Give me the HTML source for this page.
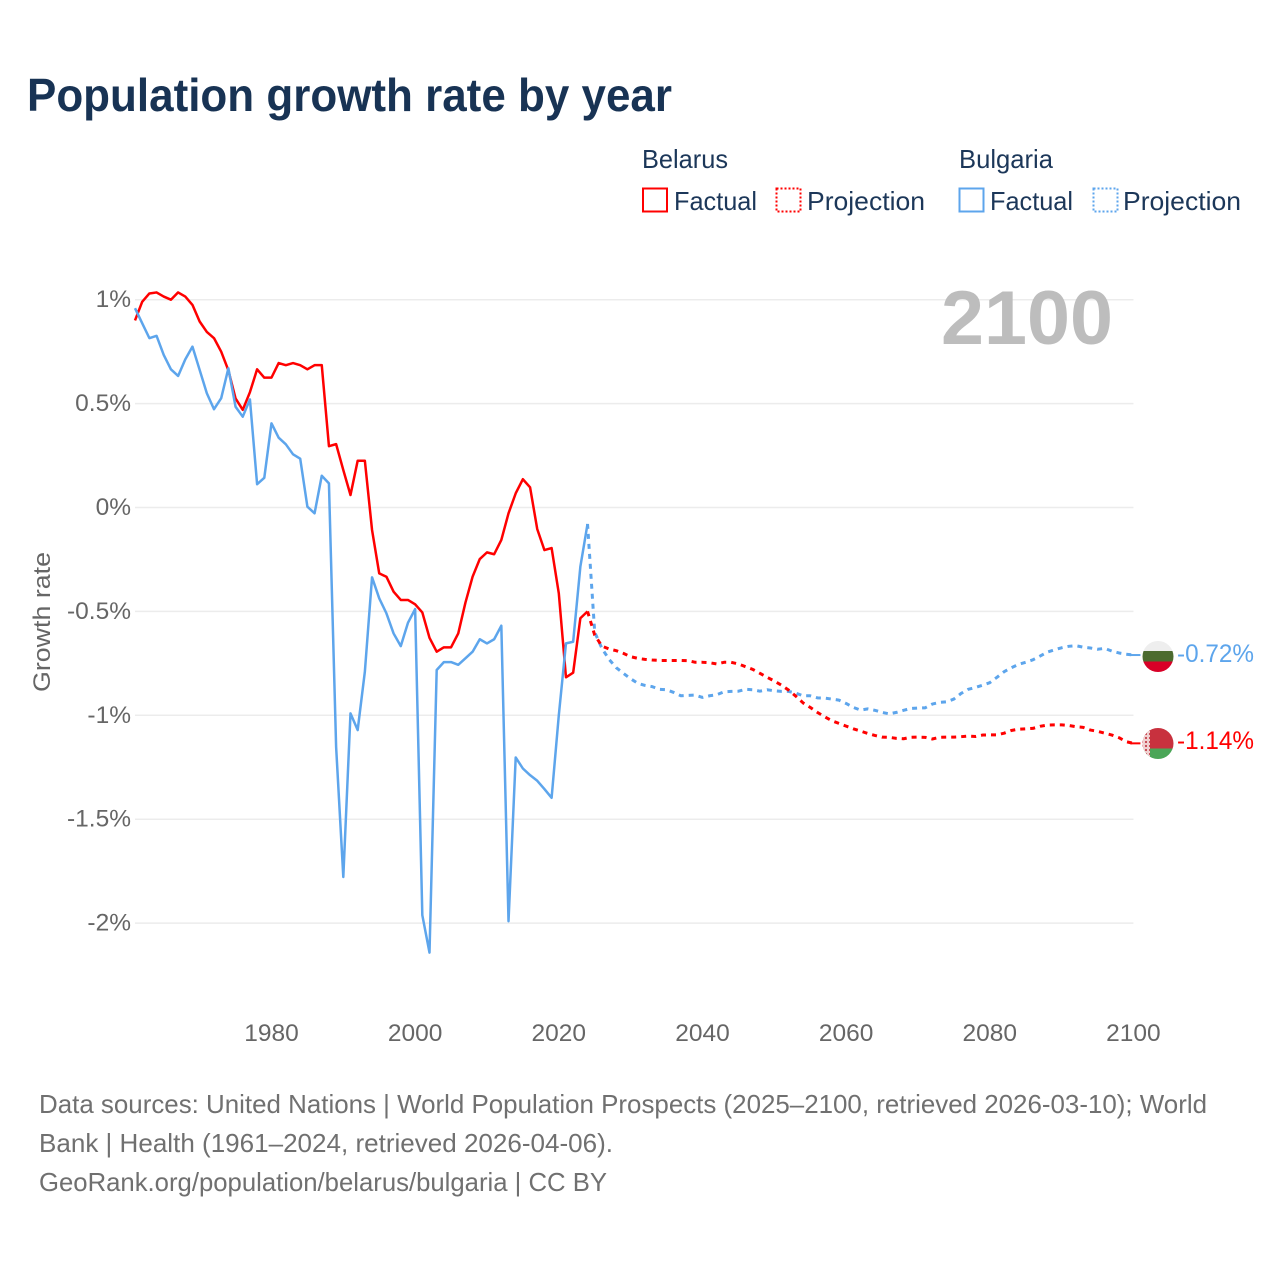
<!DOCTYPE html>
<html lang="en">
<head>
<meta charset="utf-8">
<title>Population growth rate by year</title>
<style>
html,body{margin:0;padding:0;background:#fff;}
svg{display:block;font-family:"Liberation Sans",sans-serif;}
</style>
</head>
<body>
<svg id="chart" xmlns="http://www.w3.org/2000/svg" width="1280" height="1280" viewBox="0 0 1280 1280">
  <rect width="1280" height="1280" fill="#ffffff"/>
  <text x="27" y="111" font-size="46" font-weight="700" fill="#183354" textLength="645" lengthAdjust="spacingAndGlyphs">Population growth rate by year</text>

  <g font-size="26" fill="#1c3759">
    <text x="642" y="168" textLength="86" lengthAdjust="spacingAndGlyphs">Belarus</text>
    <text x="959" y="168" textLength="94" lengthAdjust="spacingAndGlyphs">Bulgaria</text>
    <rect x="643" y="188.5" width="24" height="23" fill="none" stroke="#ff0000" stroke-width="2"/>
    <text x="674" y="210" textLength="83" lengthAdjust="spacingAndGlyphs">Factual</text>
    <rect x="776.5" y="188.5" width="24" height="23" fill="none" stroke="#ff0000" stroke-width="2" stroke-dasharray="2 2"/>
    <text x="807" y="210" textLength="118" lengthAdjust="spacingAndGlyphs">Projection</text>
    <rect x="959.5" y="188.5" width="24" height="23" fill="none" stroke="#5da5ec" stroke-width="2"/>
    <text x="990" y="210" textLength="83" lengthAdjust="spacingAndGlyphs">Factual</text>
    <rect x="1093.5" y="188.5" width="24" height="23" fill="none" stroke="#5da5ec" stroke-width="2" stroke-dasharray="2 2"/>
    <text x="1123" y="210" textLength="118" lengthAdjust="spacingAndGlyphs">Projection</text>
  </g>

  <g id="grid"></g>
  <g id="yticks" font-size="24.5" fill="#666666" text-anchor="end"></g>
  <g id="xticks" font-size="24.5" fill="#666666" text-anchor="middle"></g>
  <text transform="translate(50 622) rotate(-90)" font-size="24.5" fill="#666666" text-anchor="middle" textLength="140" lengthAdjust="spacingAndGlyphs">Growth rate</text>
  <text x="941" y="344" font-size="76" font-weight="700" fill="#bdbdbd" textLength="172" lengthAdjust="spacingAndGlyphs">2100</text>

  <g id="series"></g>

  <defs>
    <clipPath id="clip-bg"><circle cx="1158" cy="656.5" r="15.5"/></clipPath>
    <clipPath id="clip-by"><circle cx="1158" cy="743.5" r="15.5"/></clipPath>
    <pattern id="by-ornament" width="4" height="4" patternUnits="userSpaceOnUse">
      <rect width="4" height="4" fill="#f0d0d0"/>
      <rect x="1" y="1" width="2" height="2" fill="#c8505a"/>
    </pattern>
  </defs>
  <g clip-path="url(#clip-bg)">
    <rect x="1142" y="641" width="32" height="10.5" fill="#eeeeee"/>
    <rect x="1142" y="651" width="32" height="10.5" fill="#4c6b2f"/>
    <rect x="1142" y="661.5" width="32" height="11" fill="#d80027"/>
  </g>
  <g clip-path="url(#clip-by)">
    <rect x="1142" y="728" width="32" height="20.5" fill="#c8313e"/>
    <rect x="1142" y="748.5" width="32" height="10.5" fill="#4aa657"/>
    <rect x="1142" y="728" width="8" height="31" fill="url(#by-ornament)"/>
  </g>
  <text id="label-bg" x="1177" y="662" font-size="25" fill="#5da5ec" textLength="77" lengthAdjust="spacingAndGlyphs"></text>
  <text id="label-by" x="1177" y="749" font-size="25" fill="#ff0000" textLength="77" lengthAdjust="spacingAndGlyphs"></text>

  <g font-size="26" fill="#707070">
    <text x="39" y="1113" textLength="1168" lengthAdjust="spacingAndGlyphs">Data sources: United Nations | World Population Prospects (2025–2100, retrieved 2026-03-10); World</text>
    <text x="39" y="1152" textLength="574" lengthAdjust="spacingAndGlyphs">Bank | Health (1961–2024, retrieved 2026-04-06).</text>
    <text x="39" y="1191" textLength="568" lengthAdjust="spacingAndGlyphs">GeoRank.org/population/belarus/bulgaria | CC BY</text>
  </g>
</svg>
<script>
const factualStartYear = 1961;
const projectionStartYear = 2024;
const xTickYears = [1980, 2000, 2020, 2040, 2060, 2080, 2100];
const yTickValues = [1, 0.5, 0, -0.5, -1, -1.5, -2];
const yTickLabels = ['1%', '0.5%', '0%', '-0.5%', '-1%', '-1.5%', '-2%'];
const belarusEndLabel = '-1.14%';
const bulgariaEndLabel = '-0.72%';

const belarusFactual = [0.90,0.99,1.03,1.035,1.015,1.00,1.035,1.015,0.975,0.895,0.845,0.815,0.75,0.66,0.525,0.47,0.555,0.665,0.625,0.625,0.695,0.685,0.695,0.685,0.665,0.685,0.685,0.295,0.305,0.18,0.06,0.225,0.225,-0.108,-0.317,-0.333,-0.405,-0.445,-0.445,-0.466,-0.505,-0.627,-0.694,-0.673,-0.673,-0.606,-0.458,-0.333,-0.248,-0.216,-0.225,-0.156,-0.028,0.068,0.136,0.097,-0.104,-0.205,-0.195,-0.413,-0.817,-0.795,-0.533,-0.50];

const bulgariaFactual = [0.959,0.887,0.815,0.826,0.734,0.665,0.633,0.713,0.774,0.662,0.55,0.473,0.526,0.67,0.485,0.437,0.52,0.112,0.143,0.405,0.336,0.304,0.256,0.235,0.004,-0.028,0.153,0.116,-1.152,-1.778,-0.991,-1.071,-0.79,-0.336,-0.437,-0.509,-0.606,-0.667,-0.555,-0.489,-1.962,-2.142,-0.782,-0.744,-0.744,-0.757,-0.726,-0.694,-0.634,-0.654,-0.634,-0.569,-1.991,-1.203,-1.256,-1.288,-1.315,-1.355,-1.397,-1.0,-0.654,-0.646,-0.285,-0.079];

const belarusProjection = [-0.50,-0.614,-0.667,-0.681,-0.689,-0.702,-0.718,-0.726,-0.731,-0.734,-0.736,-0.736,-0.736,-0.736,-0.737,-0.745,-0.745,-0.747,-0.753,-0.745,-0.745,-0.753,-0.766,-0.779,-0.798,-0.817,-0.835,-0.855,-0.879,-0.908,-0.94,-0.962,-0.986,-1.007,-1.026,-1.039,-1.052,-1.065,-1.076,-1.087,-1.097,-1.105,-1.106,-1.111,-1.113,-1.106,-1.105,-1.106,-1.114,-1.106,-1.105,-1.105,-1.103,-1.10,-1.102,-1.095,-1.094,-1.094,-1.086,-1.073,-1.067,-1.065,-1.063,-1.053,-1.047,-1.046,-1.046,-1.049,-1.055,-1.058,-1.071,-1.077,-1.086,-1.095,-1.108,-1.127,-1.135];

const bulgariaProjection = [-0.079,-0.60,-0.678,-0.731,-0.771,-0.798,-0.824,-0.846,-0.856,-0.862,-0.875,-0.877,-0.89,-0.906,-0.904,-0.903,-0.914,-0.906,-0.901,-0.887,-0.885,-0.884,-0.875,-0.877,-0.884,-0.877,-0.882,-0.885,-0.885,-0.893,-0.906,-0.906,-0.916,-0.917,-0.922,-0.927,-0.943,-0.962,-0.975,-0.969,-0.976,-0.986,-0.993,-0.986,-0.976,-0.967,-0.965,-0.964,-0.946,-0.938,-0.935,-0.922,-0.895,-0.875,-0.866,-0.855,-0.843,-0.817,-0.79,-0.771,-0.755,-0.745,-0.733,-0.715,-0.696,-0.685,-0.675,-0.668,-0.665,-0.672,-0.676,-0.682,-0.678,-0.691,-0.70,-0.706,-0.71];

const SVG_NS = 'http://www.w3.org/2000/svg';
const RED = '#ff0000';
const BLUE = '#5da5ec';

function xScale(year) { return 135 + (year - 1961) * 7.183; }
function yScale(value) { return 507.5 - value * 207.8; }

function linePoints(values, startYear) {
  return values.map(function (v, i) {
    return xScale(startYear + i).toFixed(2) + ',' + yScale(v).toFixed(2);
  }).join(' ');
}

const gridGroup = document.getElementById('grid');
const yTickGroup = document.getElementById('yticks');
const xTickGroup = document.getElementById('xticks');
const seriesGroup = document.getElementById('series');

yTickValues.forEach(function (v, i) {
  const line = document.createElementNS(SVG_NS, 'line');
  
  
  line.setAttribute('x1', xScale(1961));
  line.setAttribute('x2', xScale(2100));
  line.setAttribute('y1', yScale(v));
  line.setAttribute('y2', yScale(v));
  line.setAttribute('stroke', '#ececec');
  line.setAttribute('stroke-width', '1.5');
  gridGroup.appendChild(line);

  const label = document.createElementNS(SVG_NS, 'text');
  
  
  label.setAttribute('x', 131);
  label.setAttribute('y', yScale(v) + 7.5);
  label.textContent = yTickLabels[i];
  yTickGroup.appendChild(label);
});

xTickYears.forEach(function (year) {
  const label = document.createElementNS(SVG_NS, 'text');
  
  
  label.setAttribute('x', xScale(year));
  label.setAttribute('y', 1041);
  label.textContent = String(year);
  xTickGroup.appendChild(label);
});

function addSeries(name, values, startYear, colour, dashed) {
  const line = document.createElementNS(SVG_NS, 'polyline');
  
  
  line.setAttribute('points', linePoints(values, startYear));
  line.setAttribute('fill', 'none');
  line.setAttribute('stroke', colour);
  line.setAttribute('stroke-width', dashed ? '3' : '2.5');
  line.setAttribute('stroke-linejoin', 'round');
  if (dashed) {
    line.setAttribute('stroke-dasharray', '5 5');
  }
  seriesGroup.appendChild(line);
}

addSeries('line-belarus-factual', belarusFactual, factualStartYear, RED, false);
addSeries('line-bulgaria-factual', bulgariaFactual, factualStartYear, BLUE, false);
addSeries('line-bulgaria-projection', bulgariaProjection, projectionStartYear, BLUE, true);
addSeries('line-belarus-projection', belarusProjection, projectionStartYear, RED, true);

function addLeader(name, lastValue, colour) {
  const lead = document.createElementNS(SVG_NS, 'line');
  
  
  lead.setAttribute('x1', xScale(2100) - 3);
  lead.setAttribute('x2', xScale(2100) + 7);
  lead.setAttribute('y1', yScale(lastValue));
  lead.setAttribute('y2', yScale(lastValue));
  lead.setAttribute('stroke', colour);
  lead.setAttribute('stroke-width', '2');
  seriesGroup.appendChild(lead);
}

addLeader('leader-bulgaria', bulgariaProjection[bulgariaProjection.length - 1], BLUE);
addLeader('leader-belarus', belarusProjection[belarusProjection.length - 1], RED);

document.getElementById('label-bg').textContent = bulgariaEndLabel;
document.getElementById('label-by').textContent = belarusEndLabel;
</script>
</body>
</html>
